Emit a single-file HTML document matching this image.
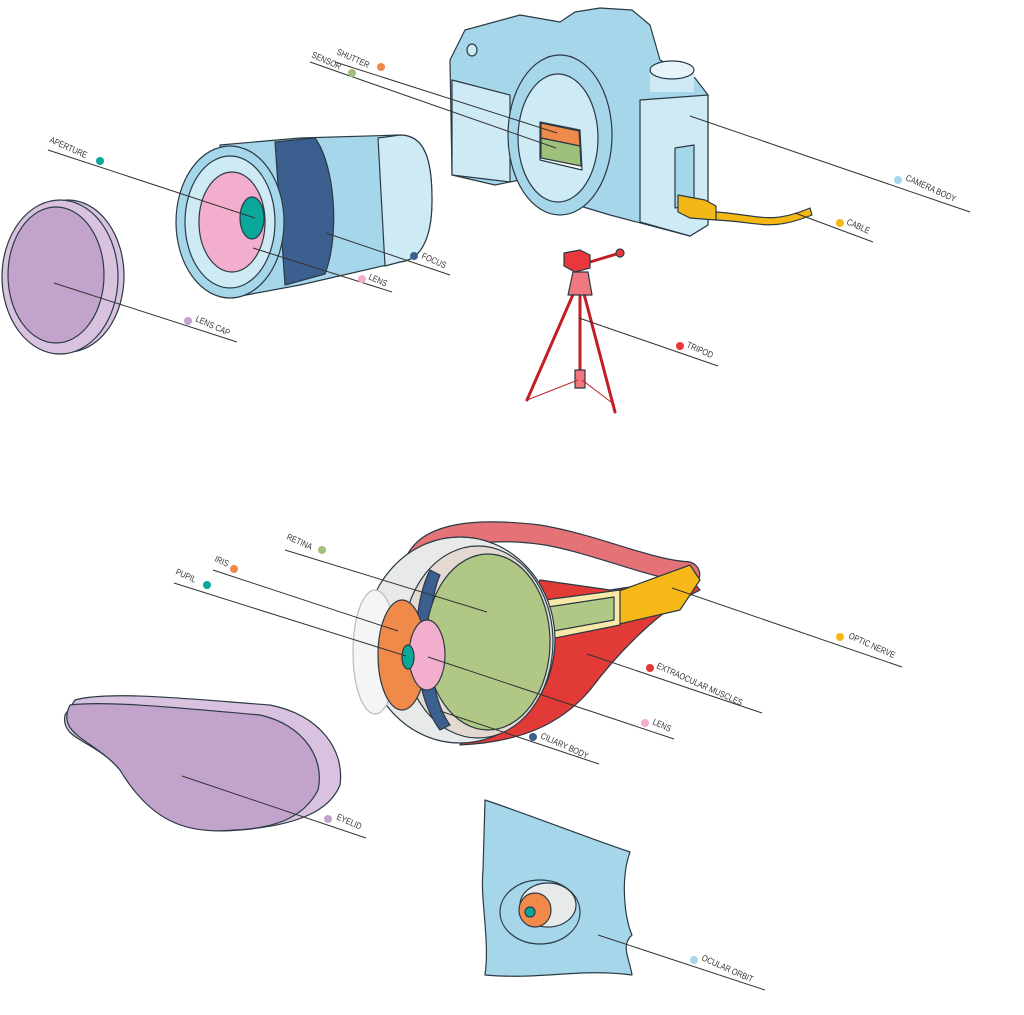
<!DOCTYPE html>
<html><head><meta charset="utf-8"><style>
html,body{margin:0;padding:0;background:#fff;}
svg{display:block}
text{font-family:"Liberation Sans",sans-serif;font-size:9px;fill:#333;}
</style></head><body>
<svg width="1024" height="1015" viewBox="0 0 1024 1015" xmlns="http://www.w3.org/2000/svg" stroke-linejoin="round">
<g stroke="#2a3a44" stroke-width="1.2">
<!-- CAMERA -->
<path d="M465 30 L520 15 L560 22 L575 12 L600 8 L632 10 L650 25 L660 60 L695 78 L708 95 L708 225 L690 236 L610 215 L560 200 L520 180 L495 185 L452 175 L450 60 Z" fill="#a5d6ea"/>
<path d="M452 80 L510 95 L510 182 L452 175 Z" fill="#cdeaf5"/>
<path d="M640 100 L708 95 L708 225 L690 236 L640 222 Z" fill="#cdeaf5"/>
<ellipse cx="560" cy="135" rx="52" ry="80" fill="#a5d6ea"/>
<ellipse cx="558" cy="138" rx="40" ry="64" fill="#cdeaf5"/>
<path d="M540 122 L580 130 L582 170 L540 160 Z" fill="#fff"/>
<path d="M541 123 L579 131 L580 146 L541 138 Z" fill="#ef8a4a"/>
<path d="M541 138 L580 146 L581 166 L541 158 Z" fill="#9fc07a"/>
<rect x="650" y="70" width="44" height="22" fill="#cdeaf5" stroke="none"/>
<ellipse cx="672" cy="70" rx="22" ry="9" fill="#e6f4fa"/>
<path d="M675 148 L694 145 L694 205 L675 208 Z" fill="#a5d6ea"/>
<ellipse cx="472" cy="50" rx="5" ry="6" fill="#cdeaf5"/>
<path d="M716 212 C760 215 770 225 810 208 L812 215 C770 232 760 222 716 220 Z" fill="#f3b816"/>
<path d="M678 195 L705 200 L716 206 L716 220 L690 218 L678 212 Z" fill="#f3b816"/>
<!-- LENS -->
<path d="M220 145 L300 138 L400 135 C425 135 432 160 432 200 C432 240 420 260 400 262 L300 285 L230 298 Z" fill="#a5d6ea"/>
<path d="M378 138 L400 135 C425 135 432 160 432 200 C432 240 420 260 400 262 L385 266 Z" fill="#cdeaf5"/>
<path d="M275 142 L315 138 C335 165 340 235 325 274 L285 285 Z" fill="#3b5f8e"/>
<ellipse cx="230" cy="222" rx="54" ry="76" fill="#a5d6ea"/>
<ellipse cx="230" cy="222" rx="45" ry="66" fill="#cdeaf5"/>
<ellipse cx="232" cy="222" rx="33" ry="50" fill="#f4aecd"/>
<ellipse cx="252" cy="218" rx="12" ry="21" fill="#0aa79b"/>
<!-- LENS CAP -->
<ellipse cx="68" cy="276" rx="56" ry="76" fill="#d8c2df"/>
<ellipse cx="60" cy="277" rx="58" ry="77" fill="#d8c2df"/>
<ellipse cx="56" cy="275" rx="48" ry="68" fill="#c1a3cc"/>
<!-- TRIPOD -->
<g stroke="#c21e25" stroke-width="3" stroke-linecap="round" fill="none">
<line x1="575" y1="290" x2="527" y2="400"/>
<line x1="583" y1="290" x2="615" y2="412"/>
<line x1="580" y1="290" x2="580" y2="385"/>
<line x1="590" y1="262" x2="620" y2="253"/>
</g>
<path d="M564 253 L580 250 L590 255 L590 268 L575 272 L564 266 Z" fill="#e8383b"/>
<path d="M573 272 L588 272 L592 295 L568 295 Z" fill="#f07880"/>
<circle cx="620" cy="253" r="4" fill="#e8383b"/>
<rect x="575" y="370" width="10" height="18" fill="#f07880"/>
<line x1="527" y1="400" x2="578" y2="380" stroke="#c21e25" stroke-width="1"/>
<line x1="615" y1="405" x2="582" y2="380" stroke="#c21e25" stroke-width="1"/>
<!-- EYE muscles -->
<path d="M405 560 C420 520 480 518 540 525 C600 535 650 560 690 562 C702 566 702 580 695 582 C650 580 600 555 545 545 C480 535 430 550 420 570 Z" fill="#e57276"/>
<path d="M540 580 L610 590 L690 578 L700 590 C660 610 620 650 590 690 C560 725 520 742 460 745 Z" fill="#e23a36"/>
<path d="M600 598 L690 565 L700 580 L680 610 L615 625 Z" fill="#f7b917"/>
<path d="M545 600 L620 590 L620 625 L545 640 Z" fill="#f9e9a8"/>
<path d="M548 607 L614 597 L614 620 L548 632 Z" fill="#b1c786"/>
<ellipse cx="460" cy="640" rx="95" ry="103" fill="#e8e9e9"/>
<ellipse cx="375" cy="652" rx="22" ry="62" fill="#f5f5f5" stroke="#bbb"/>
<ellipse cx="478" cy="642" rx="75" ry="96" fill="#e3d9d0"/>
<path d="M430 570 C410 610 410 690 440 730 L450 725 C425 690 425 610 440 575 Z" fill="#3b5f8e"/>
<ellipse cx="488" cy="642" rx="62" ry="88" fill="#b1c786"/>
<ellipse cx="402" cy="655" rx="24" ry="55" fill="#ef8a4a"/>
<ellipse cx="427" cy="655" rx="18" ry="35" fill="#f4aecd"/>
<ellipse cx="408" cy="657" rx="6" ry="12" fill="#0aa79b"/>
<!-- EYELID -->
<path d="M75 700 C110 690 200 700 270 705 C320 715 345 750 340 785 C330 810 300 825 240 830 C190 835 150 820 120 770 C95 740 60 740 65 715 Z" fill="#d8c2df"/>
<path d="M70 705 C110 700 200 710 260 715 C305 725 325 760 318 790 C305 815 280 828 235 830 C185 835 150 820 120 770 C95 740 55 735 70 705 Z" fill="#c1a3cc"/>
<!-- ORBIT -->
<path d="M485 800 C530 815 580 835 630 852 C620 880 625 920 632 935 C620 945 630 960 632 975 C580 968 540 980 485 975 C490 940 480 900 483 870 Z" fill="#a5d6ea"/>
<ellipse cx="540" cy="912" rx="40" ry="32" fill="none"/>
<ellipse cx="548" cy="905" rx="28" ry="22" fill="#e8e9e9"/>
<ellipse cx="535" cy="910" rx="16" ry="17" fill="#ef8a4a"/>
<circle cx="530" cy="912" r="5" fill="#0aa79b"/>
</g>
<!-- LEADERS -->
<g stroke="#333" stroke-width="1" fill="none">
<polyline points="335,62 557,133"/>
<polyline points="310,62 556,148"/>
<polyline points="48,150 255,218"/>
<polyline points="690,116 970,212"/>
<polyline points="795,213 873,242"/>
<polyline points="326,233 450,275"/>
<polyline points="253,248 392,292"/>
<polyline points="54,283 237,342"/>
<polyline points="579,318 718,366"/>
<polyline points="285,550 487,612"/>
<polyline points="213,570 398,631"/>
<polyline points="174,583 406,656"/>
<polyline points="672,588 902,667"/>
<polyline points="587,654 762,713"/>
<polyline points="428,657 674,739"/>
<polyline points="440,711 599,764"/>
<polyline points="182,776 366,838"/>
<polyline points="598,935 765,990"/>
</g>
<g>
<text transform="translate(336,54) rotate(24) scale(0.82,1)">SHUTTER</text><circle cx="381" cy="67" r="4" fill="#ef8a4a"/>
<text transform="translate(311,57) rotate(24) scale(0.82,1)">SENSOR</text><circle cx="352" cy="73" r="4" fill="#9fc07a"/>
<text transform="translate(49,142) rotate(24) scale(0.82,1)">APERTURE</text><circle cx="100" cy="161" r="4" fill="#0aa79b"/>
<text transform="translate(905,180) rotate(24) scale(0.82,1)">CAMERA BODY</text><circle cx="898" cy="180" r="4" fill="#a5d6ea"/>
<text transform="translate(846,224) rotate(24) scale(0.82,1)">CABLE</text><circle cx="840" cy="223" r="4" fill="#f3b816"/>
<text transform="translate(421,258) rotate(24) scale(0.82,1)">FOCUS</text><circle cx="414" cy="256" r="4" fill="#3b5f8e"/>
<text transform="translate(368,279) rotate(24) scale(0.82,1)">LENS</text><circle cx="362" cy="279" r="4" fill="#f4aecd"/>
<text transform="translate(195,321) rotate(24) scale(0.82,1)">LENS CAP</text><circle cx="188" cy="321" r="4" fill="#c1a3cc"/>
<text transform="translate(686,347) rotate(24) scale(0.82,1)">TRIPOD</text><circle cx="680" cy="346" r="4" fill="#e8383b"/>
<text transform="translate(286,539) rotate(24) scale(0.82,1)">RETINA</text><circle cx="322" cy="550" r="4" fill="#9fc07a"/>
<text transform="translate(214,561) rotate(24) scale(0.82,1)">IRIS</text><circle cx="234" cy="569" r="4" fill="#ef8a4a"/>
<text transform="translate(175,574) rotate(24) scale(0.82,1)">PUPIL</text><circle cx="207" cy="585" r="4" fill="#0aa79b"/>
<text transform="translate(848,638) rotate(24) scale(0.82,1)">OPTIC NERVE</text><circle cx="840" cy="637" r="4" fill="#f3b816"/>
<text transform="translate(656,668) rotate(24) scale(0.82,1)">EXTRAOCULAR MUSCLES</text><circle cx="650" cy="668" r="4" fill="#e23a36"/>
<text transform="translate(652,724) rotate(24) scale(0.82,1)">LENS</text><circle cx="645" cy="723" r="4" fill="#f4aecd"/>
<text transform="translate(540,738) rotate(24) scale(0.82,1)">CILIARY BODY</text><circle cx="533" cy="737" r="4" fill="#3b5f8e"/>
<text transform="translate(336,819) rotate(24) scale(0.82,1)">EYELID</text><circle cx="328" cy="819" r="4" fill="#c1a3cc"/>
<text transform="translate(701,960) rotate(24) scale(0.82,1)">OCULAR ORBIT</text><circle cx="694" cy="960" r="4" fill="#a5d6ea"/>
</g>
</svg>
</body></html>
